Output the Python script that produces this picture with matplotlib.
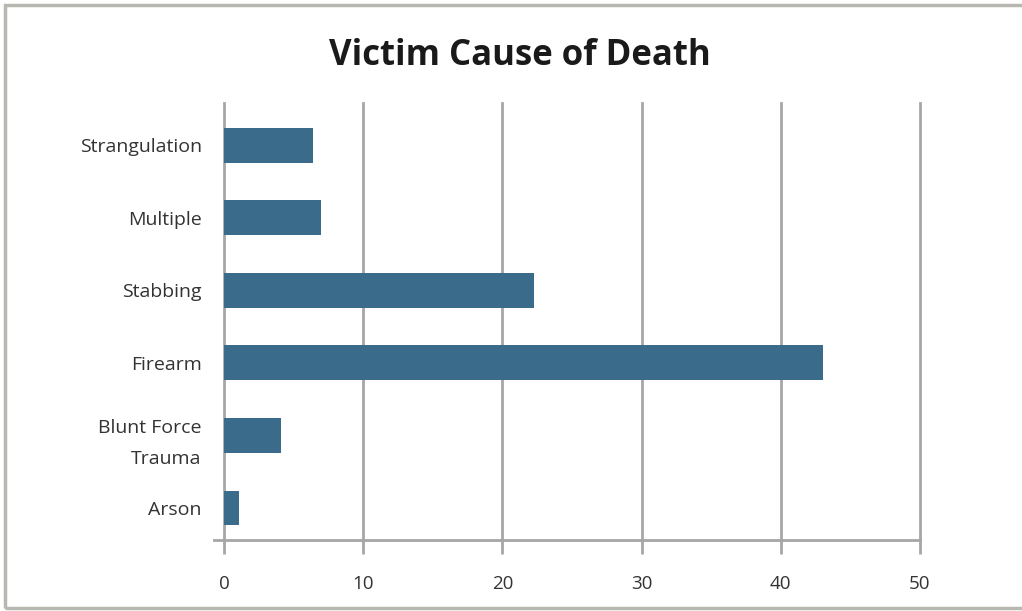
import matplotlib
matplotlib.use("Agg")
import matplotlib.pyplot as plt
from matplotlib.patches import Rectangle

categories = ["Arson", "Blunt Force\nTrauma", "Firearm", "Stabbing", "Multiple", "Strangulation"]
values = [1.1, 4.1, 43.0, 22.3, 7.0, 6.4]
xticks = [0, 10, 20, 30, 40, 50]

plt.rcParams['font.family'] = ['Open Sans', 'DejaVu Sans']

fig = plt.figure(figsize=(10.22, 6.11), dpi=100)
W, H = 1022, 611
ax = fig.add_axes([224 / W, 1 - 540 / H, (920 - 224) / W, (540 - 103) / H])

grid_c = "#a6a6a6"
bar_c = "#3b6b8b"

ypos = list(range(len(categories)))
ax.barh(ypos, values, height=0.48, color=bar_c, zorder=3)

ax.set_xlim(0, 50)
ax.set_ylim(-0.44, 5.58)
ax.set_xticks(xticks)
ax.set_xticklabels([str(t) for t in xticks], fontsize=13.5, color="#333333")
ax.set_yticks(ypos)
ax.set_yticklabels(categories, fontsize=14, color="#333333", linespacing=1.9)
ax.tick_params(axis='y', length=0, pad=16)
ax.tick_params(axis='x', length=10, width=2, color=grid_c, pad=15, direction='out')

for x in xticks:
    ax.axvline(x, color=grid_c, lw=2, zorder=1, clip_on=False)

for s in ["top", "right", "left"]:
    ax.spines[s].set_visible(False)
ax.spines["bottom"].set_color(grid_c)
ax.spines["bottom"].set_linewidth(2)
ax.spines["bottom"].set_bounds(-0.7, 50)

fig.text(520 / W, 1 - 56 / H, "Victim Cause of Death", ha="center", va="center",
         fontsize=25, fontweight="bold", color="#1a1a1a")

fig.patches.append(Rectangle((5 / W, 3 / H), 1.2, 1 - 8 / H, transform=fig.transFigure,
                             fill=False, edgecolor="#b8b8b0", lw=2.5))

fig.savefig("out.png", dpi=100)
